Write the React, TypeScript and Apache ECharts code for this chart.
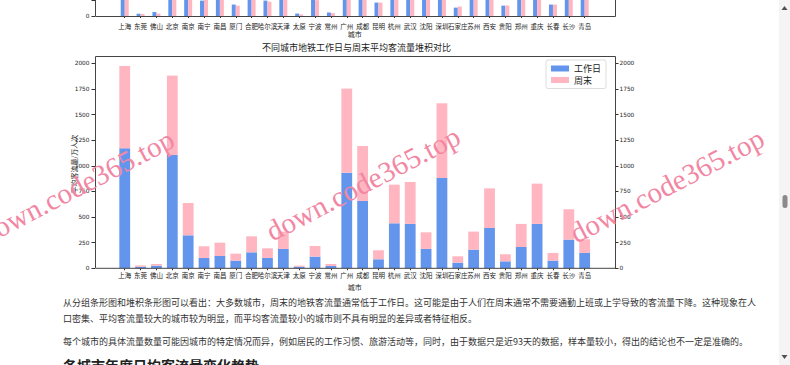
import React, { useEffect, useRef } from 'react';
import * as echarts from 'echarts';

const cities = ['上海', '东莞', '佛山', '北京', '南京', '南宁', '南昌', '厦门', '合肥', '哈尔滨', '天津', '太原', '宁波', '常州', '广州', '成都', '昆明', '杭州', '武汉', '沈阳', '深圳', '石家庄', '苏州', '西安', '贵阳', '郑州', '重庆', '长春', '长沙', '青岛'];
const workday = [1171, 15, 26, 1106, 322, 101, 120, 75, 156, 101, 189, 16, 114, 23, 933, 657, 88, 439, 433, 189, 881, 55, 182, 393, 68, 208, 433, 75, 280, 150];
const weekend = [803, 13, 16, 774, 315, 114, 130, 68, 156, 94, 169, 10, 104, 19, 820, 536, 88, 377, 409, 162, 729, 62, 176, 387, 69, 225, 393, 75, 296, 133];
const seriesNames = ['工作日', '周末'];
const yMax = 2000;
const yStep = 250;
const topYMax = 105;

const title = '不同城市地铁工作日与周末平均客流量堆积对比';
const yName = '平均客流量/万人次';
const xName = '城市';
const para1a = '从分组条形图和堆积条形图可以看出：大多数城市，周末的地铁客流量通常低于工作日。这可能是由于人们在周末通常不需要通勤上班或上学导致的客流量下降。这种现象在人';
const para1b = '口密集、平均客流量较大的城市较为明显，而平均客流量较小的城市则不具有明显的差异或者特征相反。';
const para2 = '每个城市的具体流量数量可能因城市的特定情况而异，例如居民的工作习惯、旅游活动等，同时，由于数据只是近93天的数据，样本量较小，得出的结论也不一定是准确的。';
const heading = '各城市年度日均客流量变化趋势';
const watermark = 'down.code365.top';

const BLUE = '#6495ED';
const PINK = '#FFB6C1';
const CJK = '"Noto Sans CJK SC", "DejaVu Sans", sans-serif';
const NUM = '"DejaVu Sans", sans-serif';

export default function App() {
  const ref = useRef<HTMLDivElement>(null);
  useEffect(() => {
    const chart = echarts.init(ref.current!, null, { renderer: 'svg' });
    const gLeft = 116.8;
    const gWidth = 475.8;
    const plain = (v: number) => String(v);
    const catAxis = (gridIndex: number, margin: number, nameGap: number) => ({
      type: 'category',
      gridIndex,
      data: cities,
      boundaryGap: true,
      axisLine: { show: false },
      axisTick: { show: true, alignWithLabel: true, length: 2, lineStyle: { color: '#333' } },
      axisLabel: { interval: 0, fontSize: 6.5, margin, color: '#222', fontFamily: CJK, hideOverlap: false },
      name: xName,
      nameLocation: 'middle',
      nameGap,
      nameTextStyle: { fontSize: 7, color: '#222', fontFamily: CJK },
    });
    const option: any = {
      animation: false,
      title: {
        text: title,
        left: 262,
        top: 43,
        padding: 0,
        textStyle: { fontSize: 9, fontWeight: 'normal', color: '#222', fontFamily: CJK },
      },
      legend: {
        data: seriesNames,
        orient: 'vertical',
        left: 546,
        top: 60,
        padding: [4, 5, 4, 5],
        itemWidth: 18,
        itemHeight: 6,
        itemGap: 2.5,
        borderColor: '#ddd',
        borderWidth: 1,
        borderRadius: 2,
        textStyle: { fontSize: 9, color: '#222', fontFamily: CJK, lineHeight: 9 },
        icon: 'rect',
      },
      grid: [
        { left: gLeft, width: gWidth, top: 63.3, height: 205 },
        { left: gLeft, width: gWidth, top: 0, height: 16 },
      ],
      xAxis: [catAxis(0, 3.4, 11.5), catAxis(1, 6.7, 14.5)],
      yAxis: [
        {
          type: 'value', gridIndex: 0, position: 'left', offset: 21.8, min: 0, max: yMax, interval: yStep,
          axisLine: { show: false }, splitLine: { show: false },
          axisTick: { show: true, length: 3.5, lineStyle: { color: '#333' } },
          axisLabel: { fontSize: 5.8, margin: 5.5, color: '#222', fontFamily: NUM, formatter: plain },
        },
        {
          type: 'value', gridIndex: 0, position: 'right', offset: 22.4, min: 0, max: yMax, interval: yStep,
          axisLine: { show: false }, splitLine: { show: false },
          axisTick: { show: true, length: 3.5, lineStyle: { color: '#333' } },
          axisLabel: { fontSize: 5.8, margin: 4.5, color: '#222', fontFamily: NUM, formatter: plain },
        },
        {
          type: 'value', gridIndex: 1, position: 'left', offset: 21.8, min: 0, max: topYMax, interval: 1000,
          axisLine: { show: false }, splitLine: { show: false },
          axisTick: { show: true, length: 3.5, lineStyle: { color: '#333' } },
          axisLabel: { fontSize: 5.8, margin: 5.5, color: '#222', fontFamily: NUM, formatter: (v: number) => (v === 0 ? '0' : '') },
        },
      ],
      series: [
        { name: seriesNames[0], type: 'bar', xAxisIndex: 0, yAxisIndex: 0, stack: 'total', data: workday, barWidth: 10.8, itemStyle: { color: BLUE } },
        { name: seriesNames[1], type: 'bar', xAxisIndex: 0, yAxisIndex: 0, stack: 'total', data: weekend, barWidth: 10.8, itemStyle: { color: PINK } },
        { name: seriesNames[0], type: 'bar', xAxisIndex: 1, yAxisIndex: 2, data: workday, barWidth: 4, barGap: '0%', clip: true, itemStyle: { color: BLUE } },
        { name: seriesNames[1], type: 'bar', xAxisIndex: 1, yAxisIndex: 2, data: weekend, barWidth: 4, barGap: '0%', clip: true, itemStyle: { color: PINK } },
      ],
      graphic: [
        { type: 'rect', z: 50, silent: true, shape: { x: 95.5, y: 56.5, width: 520, height: 211.8 }, style: { fill: 'none', stroke: '#444', lineWidth: 1 } },
        { type: 'polyline', z: 50, silent: true, shape: { points: [[95.5, 0], [95.5, 16.5], [615.5, 16.5], [615.5, 0]] }, style: { fill: 'none', stroke: '#444', lineWidth: 1 } },
        {
          type: 'text', z: 60, silent: true, x: 74, y: 164, rotation: Math.PI / 2,
          style: { text: yName, x: 0, y: 0, fontSize: 7, fontFamily: CJK, fill: '#222', align: 'center', verticalAlign: 'middle' },
        },
        ...[[-18, 236], [268, 233], [572, 235]].map(([x, y]) => ({
          type: 'text', z: 100, silent: true, x, y, rotation: 0.48,
          style: { text: watermark, x: 0, y: 0, fontSize: 29, fontFamily: '"Liberation Serif", serif', fill: '#f287a4', align: 'left', verticalAlign: 'middle' },
        })),
        { type: 'rect', z: 90, silent: true, shape: { x: 779, y: 0, width: 11, height: 365 }, style: { fill: '#f4f4f4' } },
        { type: 'polygon', z: 91, silent: true, shape: { points: [[781.5, 10], [784.5, 6], [787.5, 10]] }, style: { fill: '#505050' } },
        { type: 'polygon', z: 91, silent: true, shape: { points: [[781.5, 355], [784.5, 359], [787.5, 355]] }, style: { fill: '#505050' } },
        { type: 'rect', z: 91, silent: true, shape: { x: 782.5, y: 195, width: 5, height: 13, r: 2.5 }, style: { fill: '#8a8a8a' } },
      ],
    };
    chart.setOption(option);
    return () => chart.dispose();
  }, []);

  const textStyle: React.CSSProperties = {
    position: 'absolute', left: 63, whiteSpace: 'nowrap', fontSize: 9, lineHeight: '12px',
    color: '#333', fontFamily: CJK,
  };
  return (
    <div style={{ position: 'fixed', left: 0, top: 0, width: 790, height: 365, overflow: 'hidden', background: '#fff' }}>
      <div ref={ref} style={{ position: 'absolute', left: 0, top: 0, width: 790, height: 365 }} />
      <div style={{ ...textStyle, top: 297 }}>{para1a}</div>
      <div style={{ ...textStyle, top: 313 }}>{para1b}</div>
      <div style={{ ...textStyle, top: 336 }}>{para2}</div>
      <div style={{ ...textStyle, top: 357, fontSize: 14, lineHeight: '16px', fontWeight: 'bold', color: '#222' }}>{heading}</div>
    </div>
  );
}
